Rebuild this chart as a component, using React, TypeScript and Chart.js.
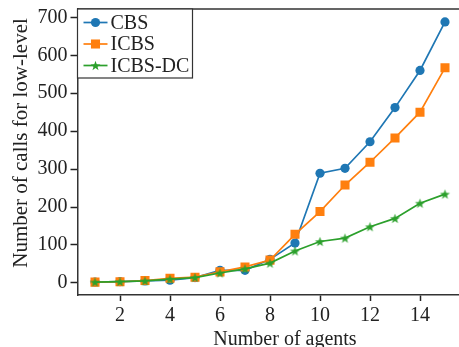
import React, { useEffect, useRef } from "react";
import { Chart, registerables } from "chart.js";

Chart.register(...registerables);

// ---- data ----
const agents = [1, 2, 3, 4, 5, 6, 7, 8, 9, 10, 11, 12, 13, 14, 15];
const cbs = [2, 3, 5, 7, 14, 33, 33, 62, 105, 289, 302, 372, 462, 560, 688];
const icbs = [2, 3, 6, 12, 15, 29, 42, 60, 128, 188, 258, 318, 382, 450, 567];
const icbsDc = [2, 3, 5, 10, 14, 26, 37, 52, 84, 109, 118, 148, 170, 210, 234];
const seriesNames = ["CBS", "ICBS", "ICBS-DC"];
const xTicks = [2, 4, 6, 8, 10, 12, 14];
const yTicks = [0, 100, 200, 300, 400, 500, 600, 700];
const xTitle = "Number of agents";
const yTitle = "Number of calls for low-level";

const BLUE = "#1f77b4";
const ORANGE = "#ff7f0e";
const GREEN = "#2ca02c";
const INK = "#222222";
const FONT = '"Liberation Serif", "DejaVu Serif", serif';

function makeStar(color: string, r: number): HTMLCanvasElement {
  const size = Math.ceil(r * 2 + 2);
  const c = document.createElement("canvas");
  c.width = size;
  c.height = size;
  const ctx = c.getContext("2d")!;
  const cx = size / 2;
  const cy = size / 2 + r * 0.1;
  ctx.beginPath();
  for (let i = 0; i < 10; i++) {
    const rad = i % 2 === 0 ? r : r * 0.4;
    const a = -Math.PI / 2 + (i * Math.PI) / 5;
    const px = cx + rad * Math.cos(a);
    const py = cy + rad * Math.sin(a);
    if (i === 0) ctx.moveTo(px, py);
    else ctx.lineTo(px, py);
  }
  ctx.closePath();
  ctx.fillStyle = color;
  ctx.fill();
  return c;
}

const framePlugin = {
  id: "frameAndLegend",
  afterDatasetsDraw(chart: any) {
    const { ctx, chartArea } = chart;
    const { left, right, top, bottom } = chartArea;
    ctx.save();
    // top and right spines
    ctx.strokeStyle = "#333333";
    ctx.lineWidth = 1.5;
    ctx.beginPath();
    ctx.moveTo(left, top);
    ctx.lineTo(right, top);
    ctx.lineTo(right, bottom);
    ctx.stroke();

    // legend box
    const bx = left;
    const by = top;
    const bw = 115;
    const bh = 69;
    ctx.fillStyle = "#ffffff";
    ctx.fillRect(bx, by, bw, bh);
    ctx.strokeStyle = "#333333";
    ctx.lineWidth = 1.2;
    ctx.strokeRect(bx, by, bw, bh);

    const rowsY = [by + 13.5, by + 35, by + 56.5];
    chart.data.datasets.forEach((ds: any, i: number) => {
      const y = rowsY[i];
      ctx.strokeStyle = ds.borderColor;
      ctx.lineWidth = ds.borderWidth;
      ctx.beginPath();
      ctx.moveTo(bx + 6, y);
      ctx.lineTo(bx + 30, y);
      ctx.stroke();
      const style = ds.pointStyle;
      const mx = bx + 18;
      ctx.fillStyle = ds.pointBackgroundColor;
      if (style === "circle") {
        ctx.beginPath();
        ctx.arc(mx, y, ds.pointRadius, 0, Math.PI * 2);
        ctx.fill();
      } else if (style === "rect") {
        const s = ds.pointRadius * Math.SQRT1_2;
        ctx.fillRect(mx - s, y - s, 2 * s, 2 * s);
      } else {
        ctx.drawImage(style, mx - style.width / 2, y - style.height / 2);
      }
      ctx.fillStyle = INK;
      ctx.font = `20px ${FONT}`;
      ctx.textAlign = "left";
      ctx.textBaseline = "middle";
      ctx.fillText(ds.label, bx + 33, y + 1);
    });

    // axis titles
    ctx.fillStyle = INK;
    ctx.font = `20px ${FONT}`;
    ctx.textAlign = "center";
    ctx.textBaseline = "alphabetic";
    ctx.fillText(xTitle, 285, 345);

    ctx.save();
    ctx.translate(26.5, 143);
    ctx.rotate(-Math.PI / 2);
    ctx.font = `21px ${FONT}`;
    ctx.fillText(yTitle, 0, 0);
    ctx.restore();

    ctx.restore();
  },
};

export default function App() {
  const ref = useRef<HTMLCanvasElement | null>(null);

  useEffect(() => {
    document.body.style.margin = "0";
    const canvas = ref.current!;
    const star = makeStar(GREEN, 5.2);
    const toPts = (arr: number[]) => agents.map((a, i) => ({ x: a, y: arr[i] }));

    const chart = new Chart(canvas, {
      type: "line",
      data: {
        datasets: [
          {
            label: seriesNames[0],
            data: toPts(cbs),
            borderColor: BLUE,
            backgroundColor: BLUE,
            pointBackgroundColor: BLUE,
            pointBorderColor: BLUE,
            pointStyle: "circle",
            pointRadius: 4.6,
            pointBorderWidth: 0,
            borderWidth: 1.7,
            order: 3,
          },
          {
            label: seriesNames[1],
            data: toPts(icbs),
            borderColor: ORANGE,
            backgroundColor: ORANGE,
            pointBackgroundColor: ORANGE,
            pointBorderColor: ORANGE,
            pointStyle: "rect",
            pointRadius: 6.4,
            pointBorderWidth: 0,
            borderWidth: 1.7,
            order: 2,
          },
          {
            label: seriesNames[2],
            data: toPts(icbsDc),
            borderColor: GREEN,
            backgroundColor: GREEN,
            pointBackgroundColor: GREEN,
            pointBorderColor: GREEN,
            pointStyle: star as any,
            pointRadius: 5,
            pointBorderWidth: 0,
            borderWidth: 1.7,
            order: 1,
          },
        ] as any,
      },
      options: {
        animation: false,
        responsive: false,
        maintainAspectRatio: false,
        devicePixelRatio: 1,
        layout: { padding: { left: 0, right: 7.5, top: 9, bottom: 0 } },
        plugins: {
          legend: { display: false },
          tooltip: { enabled: false },
          title: { display: false },
        },
        scales: {
          x: {
            type: "linear",
            min: 0.3,
            max: 15.7,
            afterFit: (s: any) => {
              s.height = 347 - 295;
              s.paddingLeft = 0;
              s.paddingRight = 0;
            },
            afterBuildTicks: (s: any) => {
              s.ticks = xTicks.map((v) => ({ value: v }));
            },
            grid: {
              drawOnChartArea: false,
              drawTicks: true,
              tickLength: 6,
              tickColor: INK,
              tickWidth: 1.5,
            },
            border: { display: true, color: "#333333", width: 1.5 },
            ticks: {
              color: INK,
              padding: 3,
              font: { family: FONT, size: 20 },
              maxRotation: 0,
              autoSkip: false,
            },
          },
          y: {
            type: "linear",
            min: -32,
            max: 722,
            afterFit: (s: any) => {
              s.width = 77.5;
              s.paddingTop = 0;
              s.paddingBottom = 0;
            },
            afterBuildTicks: (s: any) => {
              s.ticks = yTicks.map((v) => ({ value: v }));
            },
            grid: {
              drawOnChartArea: false,
              drawTicks: true,
              tickLength: 7,
              tickColor: INK,
              tickWidth: 1.5,
            },
            border: { display: true, color: "#333333", width: 1.5 },
            ticks: {
              color: INK,
              padding: 3,
              font: { family: FONT, size: 20 },
              autoSkip: false,
            },
          },
        },
      },
      plugins: [framePlugin],
    } as any);

    return () => chart.destroy();
  }, []);

  return (
    <div style={{ position: "relative", width: 459, height: 347, overflow: "hidden", background: "#fff" }}>
      <canvas ref={ref} width={470} height={347} style={{ display: "block", width: 470, height: 347 }} />
    </div>
  );
}
